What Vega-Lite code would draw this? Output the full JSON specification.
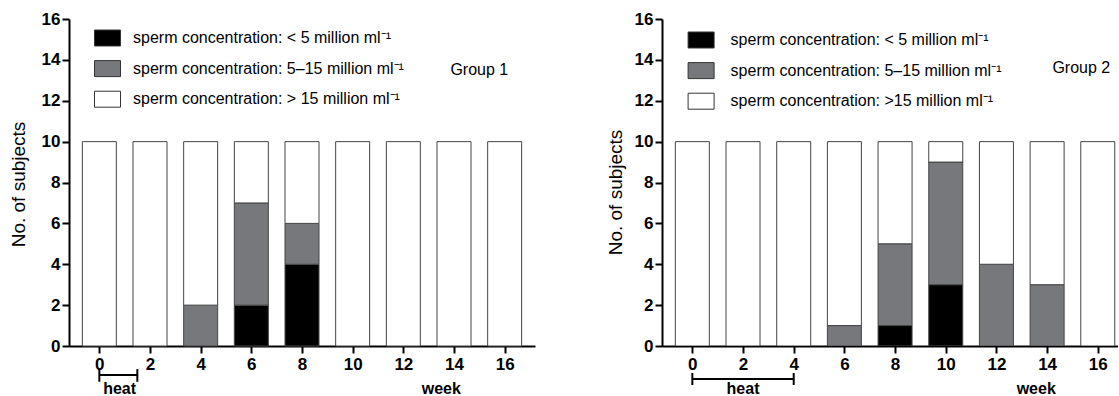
{
  "$schema": "https://vega.github.io/schema/vega-lite/v6.json",
  "padding": {"left": 9, "top": 10, "right": 0, "bottom": 0},
  "background": "white",
  "datasets": {
    "g1": [
      {"week": 0, "conc": "sperm concentration: > 15 million ml⁻¹", "rank": 3, "n": 10},
      {"week": 2, "conc": "sperm concentration: > 15 million ml⁻¹", "rank": 3, "n": 10},
      {"week": 4, "conc": "sperm concentration: 5–15 million ml⁻¹", "rank": 2, "n": 2},
      {"week": 4, "conc": "sperm concentration: > 15 million ml⁻¹", "rank": 3, "n": 8},
      {"week": 6, "conc": "sperm concentration: < 5 million ml⁻¹", "rank": 1, "n": 2},
      {"week": 6, "conc": "sperm concentration: 5–15 million ml⁻¹", "rank": 2, "n": 5},
      {"week": 6, "conc": "sperm concentration: > 15 million ml⁻¹", "rank": 3, "n": 3},
      {"week": 8, "conc": "sperm concentration: < 5 million ml⁻¹", "rank": 1, "n": 4},
      {"week": 8, "conc": "sperm concentration: 5–15 million ml⁻¹", "rank": 2, "n": 2},
      {"week": 8, "conc": "sperm concentration: > 15 million ml⁻¹", "rank": 3, "n": 4},
      {"week": 10, "conc": "sperm concentration: > 15 million ml⁻¹", "rank": 3, "n": 10},
      {"week": 12, "conc": "sperm concentration: > 15 million ml⁻¹", "rank": 3, "n": 10},
      {"week": 14, "conc": "sperm concentration: > 15 million ml⁻¹", "rank": 3, "n": 10},
      {"week": 16, "conc": "sperm concentration: > 15 million ml⁻¹", "rank": 3, "n": 10}
    ],
    "g2": [
      {"week": 0, "conc": "sperm concentration: >15 million ml⁻¹", "rank": 3, "n": 10},
      {"week": 2, "conc": "sperm concentration: >15 million ml⁻¹", "rank": 3, "n": 10},
      {"week": 4, "conc": "sperm concentration: >15 million ml⁻¹", "rank": 3, "n": 10},
      {"week": 6, "conc": "sperm concentration: 5–15 million ml⁻¹", "rank": 2, "n": 1},
      {"week": 6, "conc": "sperm concentration: >15 million ml⁻¹", "rank": 3, "n": 9},
      {"week": 8, "conc": "sperm concentration: < 5 million ml⁻¹", "rank": 1, "n": 1},
      {"week": 8, "conc": "sperm concentration: 5–15 million ml⁻¹", "rank": 2, "n": 4},
      {"week": 8, "conc": "sperm concentration: >15 million ml⁻¹", "rank": 3, "n": 5},
      {"week": 10, "conc": "sperm concentration: < 5 million ml⁻¹", "rank": 1, "n": 3},
      {"week": 10, "conc": "sperm concentration: 5–15 million ml⁻¹", "rank": 2, "n": 6},
      {"week": 10, "conc": "sperm concentration: >15 million ml⁻¹", "rank": 3, "n": 1},
      {"week": 12, "conc": "sperm concentration: 5–15 million ml⁻¹", "rank": 2, "n": 4},
      {"week": 12, "conc": "sperm concentration: >15 million ml⁻¹", "rank": 3, "n": 6},
      {"week": 14, "conc": "sperm concentration: 5–15 million ml⁻¹", "rank": 2, "n": 3},
      {"week": 14, "conc": "sperm concentration: >15 million ml⁻¹", "rank": 3, "n": 7},
      {"week": 16, "conc": "sperm concentration: >15 million ml⁻¹", "rank": 3, "n": 10}
    ],
    "heat1": [{"start": 0, "end": 1.5, "mid": 0.8, "label": "heat"}],
    "heat2": [{"start": 0, "end": 4, "mid": 2, "label": "heat"}],
    "week1": [{"at": 13.5, "label": "week"}],
    "week2": [{"at": 13.57, "label": "week"}],
    "grp1": [{"at": 15.0, "level": 13.5, "label": "Group 1"}],
    "grp2": [{"at": 15.35, "level": 13.6, "label": "Group 2"}]
  },
  "hconcat": [
    {
      "width": 466,
      "height": 327,
      "layer": [
        {
          "data": {"name": "g1"},
          "mark": {"type": "bar", "width": 34, "stroke": "#444444", "strokeWidth": 1},
          "encoding": {
            "x": {"field": "week", "type": "quantitative", "scale": {"domain": [-1, 17], "nice": false, "zero": false},
              "axis": {"values": [0, 2, 4, 6, 8, 10, 12, 14, 16], "title": null, "labelPadding": 3}},
            "y": {"field": "n", "type": "quantitative", "stack": "zero", "scale": {"domain": [0, 16], "nice": false},
              "axis": {"values": [0, 2, 4, 6, 8, 10, 12, 14, 16], "title": "No. of subjects", "titleX": -51, "titleY": 165, "titleAlign": "center", "titleBaseline": "middle", "titleAngle": -90}},
            "color": {"field": "conc", "type": "nominal",
              "scale": {"domain": ["sperm concentration: < 5 million ml⁻¹", "sperm concentration: 5–15 million ml⁻¹", "sperm concentration: > 15 million ml⁻¹"], "range": ["#000000", "#77787b", "#ffffff"]},
              "legend": {"orient": "none", "legendX": 25, "legendY": 5.5, "title": null, "padding": 0, "symbolType": "M-1,-0.615H1V0.615H-1Z", "symbolSize": 676, "symbolStrokeColor": "#333333", "symbolStrokeWidth": 1, "symbolOpacity": 1, "labelFontSize": 16, "labelFont": "Liberation Sans", "labelColor": "#000000", "rowPadding": 6.6, "labelOffset": 12, "labelLimit": 400}},
            "order": {"field": "rank", "type": "quantitative"}
          }
        },
        {
          "mark": {"type": "rule", "strokeWidth": 2, "color": "#000000"},
          "encoding": {"y": {"datum": 16, "scale": {"domain": [0, 16], "nice": false}}}
        },
        {
          "mark": {"type": "rule", "strokeWidth": 2, "color": "#000000"},
          "encoding": {"x": {"datum": 17, "scale": {"domain": [-1, 17], "nice": false, "zero": false}}}
        },
        {
          "data": {"name": "heat1"},
          "mark": {"type": "rule", "strokeWidth": 2, "color": "#000000"},
          "encoding": {
            "x": {"field": "start", "type": "quantitative"},
            "x2": {"field": "end"},
            "y": {"datum": -1.42}
          }
        },
        {
          "data": {"name": "heat1"},
          "mark": {"type": "rule", "strokeWidth": 2, "color": "#000000"},
          "encoding": {"x": {"field": "start", "type": "quantitative"}, "y": {"datum": -1.13}, "y2": {"datum": -1.75}}
        },
        {
          "data": {"name": "heat1"},
          "mark": {"type": "rule", "strokeWidth": 2, "color": "#000000"},
          "encoding": {"x": {"field": "end", "type": "quantitative"}, "y": {"datum": -1.13}, "y2": {"datum": -1.75}}
        },
        {
          "data": {"name": "heat1"},
          "mark": {"type": "text", "fontSize": 16, "fontWeight": "bold", "font": "Liberation Sans", "baseline": "middle", "align": "center", "color": "#000000"},
          "encoding": {"x": {"field": "mid", "type": "quantitative"}, "y": {"datum": -2.1}, "text": {"field": "label"}}
        },
        {
          "data": {"name": "week1"},
          "mark": {"type": "text", "fontSize": 16, "fontWeight": "bold", "font": "Liberation Sans", "baseline": "middle", "align": "center", "color": "#000000"},
          "encoding": {"x": {"field": "at", "type": "quantitative"}, "y": {"datum": -2.1}, "text": {"field": "label"}}
        },
        {
          "data": {"name": "grp1"},
          "mark": {"type": "text", "fontSize": 16, "font": "Liberation Sans", "baseline": "middle", "align": "center", "color": "#000000"},
          "encoding": {"x": {"field": "at", "type": "quantitative"}, "y": {"field": "level", "type": "quantitative"}, "text": {"field": "label"}}
        }
      ]
    },
    {
      "width": 456,
      "height": 327,
      "layer": [
        {
          "data": {"name": "g2"},
          "mark": {"type": "bar", "width": 34, "stroke": "#444444", "strokeWidth": 1, "clip": true},
          "encoding": {
            "x": {"field": "week", "type": "quantitative", "scale": {"domain": [-1, 16.6], "nice": false, "zero": false},
              "axis": {"values": [0, 2, 4, 6, 8, 10, 12, 14, 16], "title": null, "labelPadding": 3}},
            "y": {"field": "n", "type": "quantitative", "stack": "zero", "scale": {"domain": [0, 16], "nice": false},
              "axis": {"values": [0, 2, 4, 6, 8, 10, 12, 14, 16], "title": "No. of subjects", "titleX": -47, "titleY": 173, "titleAlign": "center", "titleBaseline": "middle", "titleAngle": -90}},
            "color": {"field": "conc", "type": "nominal",
              "scale": {"domain": ["sperm concentration: < 5 million ml⁻¹", "sperm concentration: 5–15 million ml⁻¹", "sperm concentration: >15 million ml⁻¹"], "range": ["#000000", "#77787b", "#ffffff"]},
              "legend": {"orient": "none", "legendX": 25.6, "legendY": 7.5, "title": null, "padding": 0, "symbolType": "M-1,-0.615H1V0.615H-1Z", "symbolSize": 676, "symbolStrokeColor": "#333333", "symbolStrokeWidth": 1, "symbolOpacity": 1, "labelFontSize": 16, "labelFont": "Liberation Sans", "labelColor": "#000000", "rowPadding": 6.6, "labelOffset": 16, "labelLimit": 400}},
            "order": {"field": "rank", "type": "quantitative"}
          }
        },
        {
          "mark": {"type": "rule", "strokeWidth": 2, "color": "#000000"},
          "encoding": {"y": {"datum": 16, "scale": {"domain": [0, 16], "nice": false}}}
        },
        {
          "data": {"name": "heat2"},
          "mark": {"type": "rule", "strokeWidth": 2, "color": "#000000"},
          "encoding": {
            "x": {"field": "start", "type": "quantitative"},
            "x2": {"field": "end"},
            "y": {"datum": -1.61}
          }
        },
        {
          "data": {"name": "heat2"},
          "mark": {"type": "rule", "strokeWidth": 2, "color": "#000000"},
          "encoding": {"x": {"field": "start", "type": "quantitative"}, "y": {"datum": -1.32}, "y2": {"datum": -1.91}}
        },
        {
          "data": {"name": "heat2"},
          "mark": {"type": "rule", "strokeWidth": 2, "color": "#000000"},
          "encoding": {"x": {"field": "end", "type": "quantitative"}, "y": {"datum": -1.32}, "y2": {"datum": -1.91}}
        },
        {
          "data": {"name": "heat2"},
          "mark": {"type": "text", "fontSize": 16, "fontWeight": "bold", "font": "Liberation Sans", "baseline": "middle", "align": "center", "color": "#000000"},
          "encoding": {"x": {"field": "mid", "type": "quantitative"}, "y": {"datum": -2.1}, "text": {"field": "label"}}
        },
        {
          "data": {"name": "week2"},
          "mark": {"type": "text", "fontSize": 16, "fontWeight": "bold", "font": "Liberation Sans", "baseline": "middle", "align": "center", "color": "#000000"},
          "encoding": {"x": {"field": "at", "type": "quantitative"}, "y": {"datum": -2.1}, "text": {"field": "label"}}
        },
        {
          "data": {"name": "grp2"},
          "mark": {"type": "text", "fontSize": 16, "font": "Liberation Sans", "baseline": "middle", "align": "center", "color": "#000000"},
          "encoding": {"x": {"field": "at", "type": "quantitative"}, "y": {"field": "level", "type": "quantitative"}, "text": {"field": "label"}}
        }
      ]
    }
  ],
  "spacing": 127,
  "bounds": "flush",
  "resolve": {"scale": {"color": "independent", "x": "independent", "y": "independent"}, "legend": {"color": "independent"}},
  "config": {
    "view": {"stroke": null},
    "font": "Liberation Sans",
    "axis": {
      "grid": false,
      "domainColor": "#000000",
      "domainWidth": 2,
      "tickColor": "#000000",
      "tickWidth": 2,
      "tickSize": 7,
      "labelColor": "#000000",
      "labelFont": "Liberation Sans",
      "labelFontSize": 17,
      "labelFontWeight": "bold",
      "labelPadding": 2,
      "titleColor": "#000000",
      "titleFont": "Liberation Sans",
      "titleFontSize": 19,
      "titleFontWeight": "normal"
    }
  }
}
